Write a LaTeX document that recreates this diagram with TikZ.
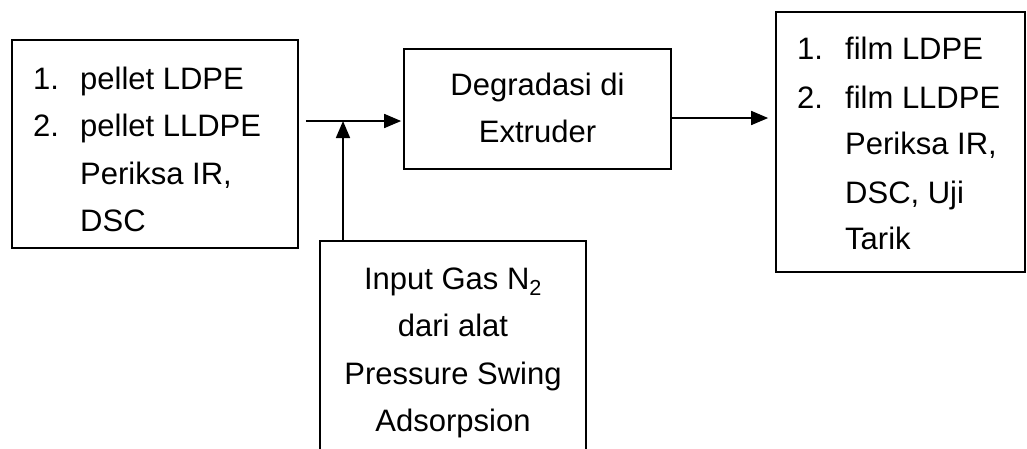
\documentclass[tikz,border=0pt]{standalone}
\usepackage{fontspec}
\setmainfont{Liberation Sans}
\usetikzlibrary{arrows.meta}
\begin{document}
\begin{tikzpicture}[x=1pt,y=-1pt,
  box/.style={draw,line width=1.7pt,rectangle,inner sep=0pt},
  txt/.style={anchor=base west,inner sep=0pt,font=\fontsize{31}{47}\selectfont},
  ctxt/.style={anchor=base,inner sep=0pt,font=\fontsize{31}{47}\selectfont},
  arr/.style={line width=1.7pt,-{Triangle[length=17pt,width=14pt]}}]
\useasboundingbox (0,0) rectangle (1027,448);
% boxes
\node[box,minimum width=286pt,minimum height=208pt] (left) at (155,144) {};
\node[box,minimum width=267pt,minimum height=120pt] (mid) at (537.5,109) {};
\node[box,minimum width=249pt,minimum height=260pt] (right) at (900.5,142) {};
\node[box,minimum width=266pt,minimum height=220pt] (gas) at (453,351) {};
% left text
\node[txt] (l1n) at (33,89) {1.};
\node[txt] (l1) at (80,89) {pellet LDPE};
\node[txt] (l2n) at (33,136) {2.};
\node[txt] (l2) at (80,136) {pellet LLDPE};
\node[txt] (l3) at (80,184) {Periksa IR,};
\node[txt] (l4) at (80,231) {DSC};
% middle text
\node[ctxt] (m1) at (537.5,95) {Degradasi di};
\node[ctxt] (m2) at (537.5,142) {Extruder};
% right text
\node[txt] (r1n) at (797,59) {1.};
\node[txt] (r1) at (845,59) {film LDPE};
\node[txt] (r2n) at (797,108) {2.};
\node[txt] (r2) at (845,108) {film LLDPE};
\node[txt] (r3) at (845,154) {Periksa IR,};
\node[txt] (r4) at (845,203) {DSC, Uji};
\node[txt] (r5) at (845,249) {Tarik};
% bottom text
\node[ctxt] (g1) at (453,289) {Input Gas N\textsubscript{2}};
\node[ctxt] (g2) at (453,336) {dari alat};
\node[ctxt] (g3) at (453,384) {Pressure Swing};
\node[ctxt] (g4) at (453,431) {Adsorpsion};
% connectors
\coordinate (j) at (343,121);
\coordinate (k) at (700,118);
\draw[line width=1.7pt] ([xshift=7pt]left.east |- j) -- (j);
\draw[arr] (j) -- ([xshift=-2pt]mid.west |- j);
\draw[arr] (gas.north -| j) -- (j);
\draw[arr] (mid.east |- k) -- ([xshift=-7pt]right.west |- k);
\end{tikzpicture}
\end{document}
